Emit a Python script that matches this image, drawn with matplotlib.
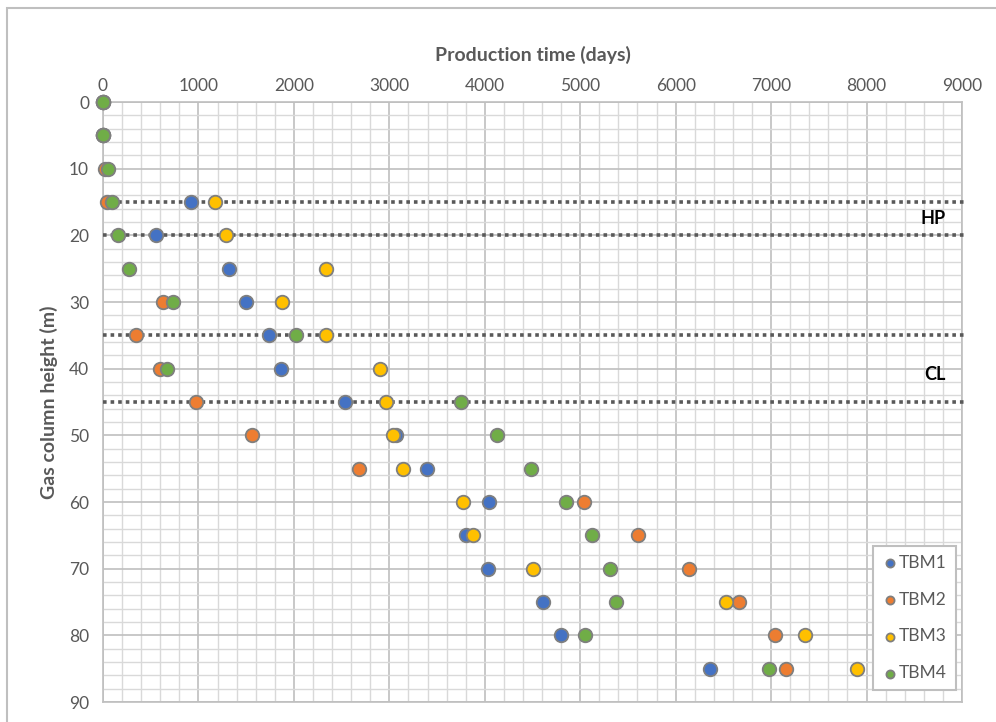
import matplotlib.pyplot as plt
from matplotlib.patches import Rectangle
from matplotlib.ticker import MultipleLocator

plt.rcParams['font.family'] = ['Lato', 'DejaVu Sans']

# ---------------- Dados ---------------- #
# altura da coluna de gás (m) e tempo de produção (dias) por TBM
tbm1_h = [0, 5, 15, 20, 25, 30, 35, 40, 45, 50, 55, 60, 65, 70, 75, 80, 85]
tbm1_t = [0, 0, 927, 560, 1320, 1503, 1740, 1860, 2533, 3075, 3393, 4046, 3799, 4036, 4612, 4794, 6359]

tbm2_h = [0, 5, 10, 15, 30, 35, 40, 45, 50, 55, 60, 65, 70, 75, 80, 85]
tbm2_t = [0, 0, 20, 40, 626, 343, 594, 972, 1559, 2684, 5042, 5605, 6139, 6667, 7044, 7159]

tbm3_h = [0, 5, 15, 20, 25, 30, 35, 40, 45, 50, 55, 60, 65, 70, 75, 80, 85]
tbm3_t = [0, 0, 1170, 1293, 2335, 1873, 2338, 2904, 2970, 3040, 3145, 3767, 3879, 4501, 6527, 7358, 7897]

tbm4_h = [0, 5, 10, 15, 20, 25, 30, 35, 40, 45, 50, 55, 60, 65, 70, 75, 80, 85]
tbm4_t = [0, 0, 55, 95, 157, 270, 731, 2027, 675, 3746, 4124, 4480, 4853, 5119, 5308, 5377, 5049, 6975]

series = [
    ("TBM1", tbm1_t, tbm1_h, "#4472C4"),
    ("TBM2", tbm2_t, tbm2_h, "#ED7D31"),
    ("TBM3", tbm3_t, tbm3_h, "#FFC000"),
    ("TBM4", tbm4_t, tbm4_h, "#70AD47"),
]

# linhas limite (HP e CL)
limit_lines = [15, 20, 35, 45]
zone_labels = ["HP", "CL"]
zone_label_x = [8700, 8720]
zone_label_y = [17.4, 40.8]

# ---------------- Figura ---------------- #
W, H = 996, 722
fig = plt.figure(figsize=(W / 100, H / 100), dpi=100)
fig.patches.append(Rectangle((7 / W, -0.1), 1.2, 1.1 - 8 / H, transform=fig.transFigure,
                             fill=False, edgecolor="#BFBFBF", linewidth=1.5))

ax = fig.add_axes([103 / W, 20 / H, 859 / W, 600 / H])

for lab, t, h, col in series:
    ax.scatter(t, h, s=95, color=col, edgecolors="#7F7F7F", linewidths=1.3, zorder=4,
               label=lab, clip_on=False)

for y in limit_lines:
    ax.plot([0, 9030], [y, y], color="#595959", linewidth=2.6, linestyle=(0, (1, 1.1)),
            zorder=3, clip_on=False)

for lab, x, y in zip(zone_labels, zone_label_x, zone_label_y):
    ax.text(x, y, lab, fontsize=13, fontweight="bold", color="black", ha="center", va="center")

ax.set_xlim(0, 9000)
ax.set_ylim(90, 0)
ax.xaxis.set_major_locator(MultipleLocator(1000))
ax.xaxis.set_minor_locator(MultipleLocator(200))
ax.yaxis.set_major_locator(MultipleLocator(10))
ax.yaxis.set_minor_locator(MultipleLocator(2))
ax.xaxis.tick_top()
ax.xaxis.set_label_position("top")
ax.tick_params(which="both", length=0, labelsize=12.5, labelcolor="#595959")
ax.tick_params(axis="x", pad=6)
ax.tick_params(axis="y", pad=10)

ax.grid(which="major", color="#BFBFBF", linewidth=1.2, zorder=0)
ax.grid(which="minor", color="#D9D9D9", linewidth=1.0, zorder=0)
ax.set_axisbelow(True)
for s in ax.spines.values():
    s.set_color("#BFBFBF")
    s.set_linewidth(1.2)

ax.set_xlabel("Production time (days)", fontsize=14, fontweight="bold", color="#595959", labelpad=12)
ax.set_ylabel("Gas column height (m)", fontsize=14, fontweight="bold", color="#595959", labelpad=8)

leg = ax.legend(loc="lower right", bbox_to_anchor=(0.9925, 0.02), fontsize=12.5,
                markerscale=0.6, handletextpad=0.0, handlelength=1.0, labelspacing=1.2,
                borderpad=0.5, fancybox=False, framealpha=1, edgecolor="#BFBFBF",
                borderaxespad=0)
leg.get_frame().set_linewidth(1.5)
for txt in leg.get_texts():
    txt.set_color("#595959")

fig.savefig("out.png", dpi=100)
